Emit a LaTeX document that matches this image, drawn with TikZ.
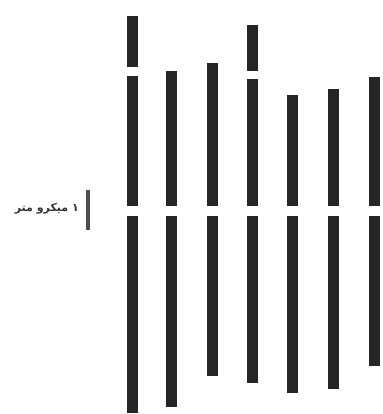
\documentclass[tikz,border=0pt]{standalone}
\usepackage{fontspec}
\newfontfamily\arabicfont[Script=Arabic]{DejaVu Sans}
\TeXXeTstate=1
\begin{document}
\begin{tikzpicture}[x=1pt,y=-1pt,
  barfill/.style={fill=black!85,draw=none},
  scalebar/.style={fill=black!70,draw=none}]
\useasboundingbox (0,0) rectangle (382,414);
% bar segments: center x, top, bottom
\foreach \cx/\ta/\tb in {132/16/67, 252/25/71}{
  \fill[barfill] (\cx-5.5,\ta) rectangle (\cx+5.5,\tb);
}
\foreach \cx/\tp/\bt in {132/76/413, 171/71/407, 212/63/376, 252/79/383, 292/95/393, 333/89/389, 374/77/366}{
  \fill[barfill] (\cx-5.5,\tp) rectangle (\cx+5.5,206);
  \fill[barfill] (\cx-5.5,216) rectangle (\cx+5.5,\bt);
}
% scale bar
\fill[scalebar] (85.5,190) rectangle (89.5,230);
\node[anchor=east,font=\arabicfont\bfseries\fontsize{11}{13}\selectfont,text=black!80,inner sep=0pt] (lbl) at (79,209) {\beginR ۱ میکرو متر\endR};
\end{tikzpicture}
\end{document}
